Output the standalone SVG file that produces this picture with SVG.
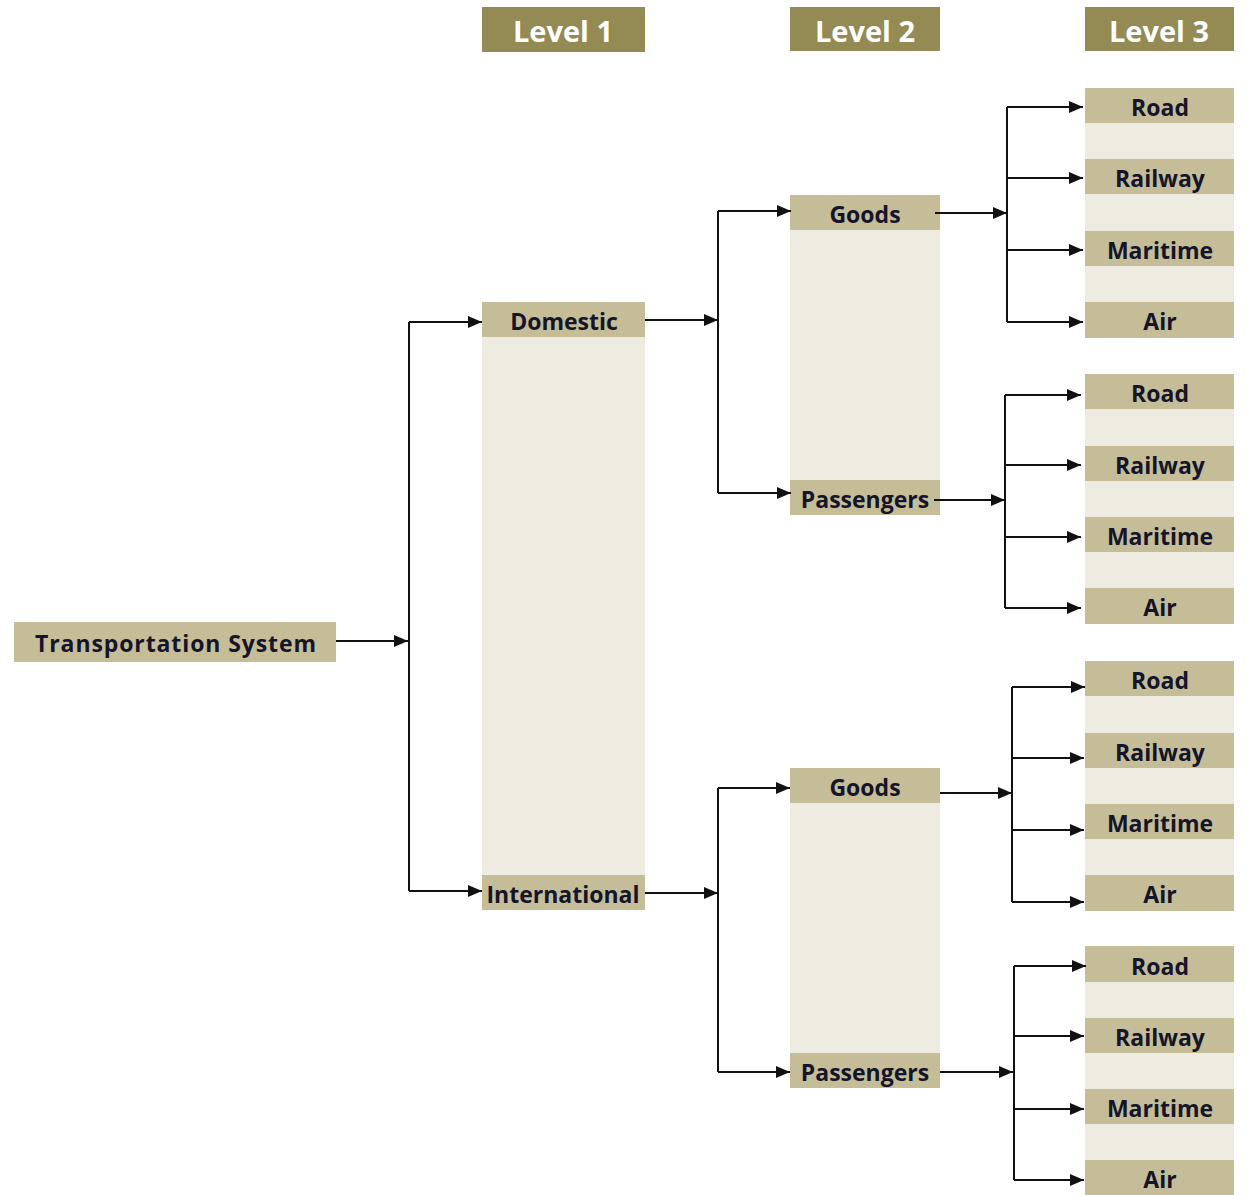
<svg xmlns="http://www.w3.org/2000/svg" width="1246" height="1195" viewBox="0 0 1246 1195">
<defs>
<marker id="ah" viewBox="0 0 14 12" refX="14" refY="6" markerWidth="14" markerHeight="12" markerUnits="userSpaceOnUse" orient="auto">
<path d="M0,0 L14,6 L0,12 Z" fill="#111"/>
</marker>
</defs>
<style>
.hd{fill:#948A54}
.hdt{fill:#fff;font-family:"Open Sans",sans-serif;font-weight:bold;font-size:29px;text-anchor:middle}
.lab{fill:#C4BD97}
.lt{fill:#EEEBE0}
.t{fill:#14142a;font-family:"Open Sans",sans-serif;font-weight:bold;font-size:23px;text-anchor:middle}
.c{stroke:#111;stroke-width:2;fill:none}
.a{stroke:#111;stroke-width:2;fill:none;marker-end:url(#ah)}
</style>
<rect width="1246" height="1195" fill="#fff"/>

<g id="headers">
<g id="level1"><rect class="hd" x="482" y="7" width="163" height="45"/><text class="hdt" x="563" y="42">Level 1</text></g>
<g id="level2"><rect class="hd" x="790" y="7" width="150" height="44"/><text class="hdt" x="865" y="42">Level 2</text></g>
<g id="level3"><rect class="hd" x="1085" y="7" width="149" height="44"/><text class="hdt" x="1159" y="42">Level 3</text></g>
</g>

<g id="root"><rect class="lab" x="14" y="622" width="322" height="40"/><text class="t" x="176" y="652" font-size="25" letter-spacing="0.9">Transportation System</text></g>

<g id="col1">
<rect class="lt" x="482" y="302" width="163" height="608"/>
<g id="domestic"><rect class="lab" x="482" y="302" width="163" height="35"/><text class="t" x="564" y="330">Domestic</text></g>
<g id="international"><rect class="lab" x="482" y="875" width="163" height="35"/><text class="t" x="563" y="903">International</text></g>
</g>

<g id="col2a">
<rect class="lt" x="790" y="195" width="150" height="320"/>
<g id="goods1"><rect class="lab" x="790" y="195" width="150" height="35"/><text class="t" x="865" y="223">Goods</text></g>
<g id="pass1"><rect class="lab" x="790" y="480" width="150" height="35"/><text class="t" x="865" y="508">Passengers</text></g>
</g>
<g id="col2b">
<rect class="lt" x="790" y="768" width="150" height="320"/>
<g id="goods2"><rect class="lab" x="790" y="768" width="150" height="35"/><text class="t" x="865" y="796">Goods</text></g>
<g id="pass2"><rect class="lab" x="790" y="1053" width="150" height="35"/><text class="t" x="865" y="1081">Passengers</text></g>
</g>

<g id="g1">
<rect class="lt" x="1085" y="88" width="149" height="250"/>
<g id="g1road"><rect class="lab" x="1085" y="88" width="149" height="35"/><text class="t" x="1160" y="116">Road</text></g>
<g id="g1rail"><rect class="lab" x="1085" y="159" width="149" height="35"/><text class="t" x="1160" y="187">Railway</text></g>
<g id="g1mar"><rect class="lab" x="1085" y="231" width="149" height="35"/><text class="t" x="1160" y="259">Maritime</text></g>
<g id="g1air"><rect class="lab" x="1085" y="302" width="149" height="36"/><text class="t" x="1160" y="330">Air</text></g>
</g>
<g id="g2">
<rect class="lt" x="1085" y="374" width="149" height="250"/>
<g id="g2road"><rect class="lab" x="1085" y="374" width="149" height="35"/><text class="t" x="1160" y="402">Road</text></g>
<g id="g2rail"><rect class="lab" x="1085" y="446" width="149" height="35"/><text class="t" x="1160" y="474">Railway</text></g>
<g id="g2mar"><rect class="lab" x="1085" y="517" width="149" height="35"/><text class="t" x="1160" y="545">Maritime</text></g>
<g id="g2air"><rect class="lab" x="1085" y="588" width="149" height="36"/><text class="t" x="1160" y="616">Air</text></g>
</g>
<g id="g3">
<rect class="lt" x="1085" y="661" width="149" height="250"/>
<g id="g3road"><rect class="lab" x="1085" y="661" width="149" height="35"/><text class="t" x="1160" y="689">Road</text></g>
<g id="g3rail"><rect class="lab" x="1085" y="733" width="149" height="35"/><text class="t" x="1160" y="761">Railway</text></g>
<g id="g3mar"><rect class="lab" x="1085" y="804" width="149" height="35"/><text class="t" x="1160" y="832">Maritime</text></g>
<g id="g3air"><rect class="lab" x="1085" y="875" width="149" height="36"/><text class="t" x="1160" y="903">Air</text></g>
</g>
<g id="g4">
<rect class="lt" x="1085" y="946" width="149" height="249"/>
<g id="g4road"><rect class="lab" x="1085" y="946" width="149" height="36"/><text class="t" x="1160" y="975">Road</text></g>
<g id="g4rail"><rect class="lab" x="1085" y="1018" width="149" height="35"/><text class="t" x="1160" y="1046">Railway</text></g>
<g id="g4mar"><rect class="lab" x="1085" y="1089" width="149" height="35"/><text class="t" x="1160" y="1117">Maritime</text></g>
<g id="g4air"><rect class="lab" x="1085" y="1160" width="149" height="35"/><text class="t" x="1160" y="1188">Air</text></g>
</g>

<g id="connectors">
<path class="a" d="M336,641 H408"/>
<path class="c" d="M409,322 V891"/>
<path class="a" d="M409,322 H482"/>
<path class="a" d="M409,891 H482"/>

<path class="a" d="M645,320 H718"/>
<path class="c" d="M718,211 V493"/>
<path class="a" d="M718,211 H791"/>
<path class="a" d="M718,493 H791"/>
<path class="a" d="M645,893 H718"/>
<path class="c" d="M718,788 V1072"/>
<path class="a" d="M718,788 H790"/>
<path class="a" d="M718,1072 H790"/>

<path class="a" d="M935,213 H1007"/>
<path class="c" d="M1007,107 V322"/>
<path class="a" d="M1007,107 H1083"/>
<path class="a" d="M1007,178 H1083"/>
<path class="a" d="M1007,250 H1083"/>
<path class="a" d="M1007,322 H1083"/>

<path class="a" d="M934,500 H1005"/>
<path class="c" d="M1005,395 V608"/>
<path class="a" d="M1005,395 H1081"/>
<path class="a" d="M1005,465 H1081"/>
<path class="a" d="M1005,537 H1081"/>
<path class="a" d="M1005,608 H1081"/>

<path class="a" d="M940,793 H1012"/>
<path class="c" d="M1012,687 V902"/>
<path class="a" d="M1012,687 H1085"/>
<path class="a" d="M1012,758 H1084"/>
<path class="a" d="M1012,830 H1084"/>
<path class="a" d="M1012,902 H1084"/>

<path class="a" d="M940,1072 H1013"/>
<path class="c" d="M1014,966 V1180"/>
<path class="a" d="M1014,966 H1086"/>
<path class="a" d="M1014,1036 H1084"/>
<path class="a" d="M1014,1109 H1084"/>
<path class="a" d="M1014,1180 H1084"/>
</g>
</svg>
